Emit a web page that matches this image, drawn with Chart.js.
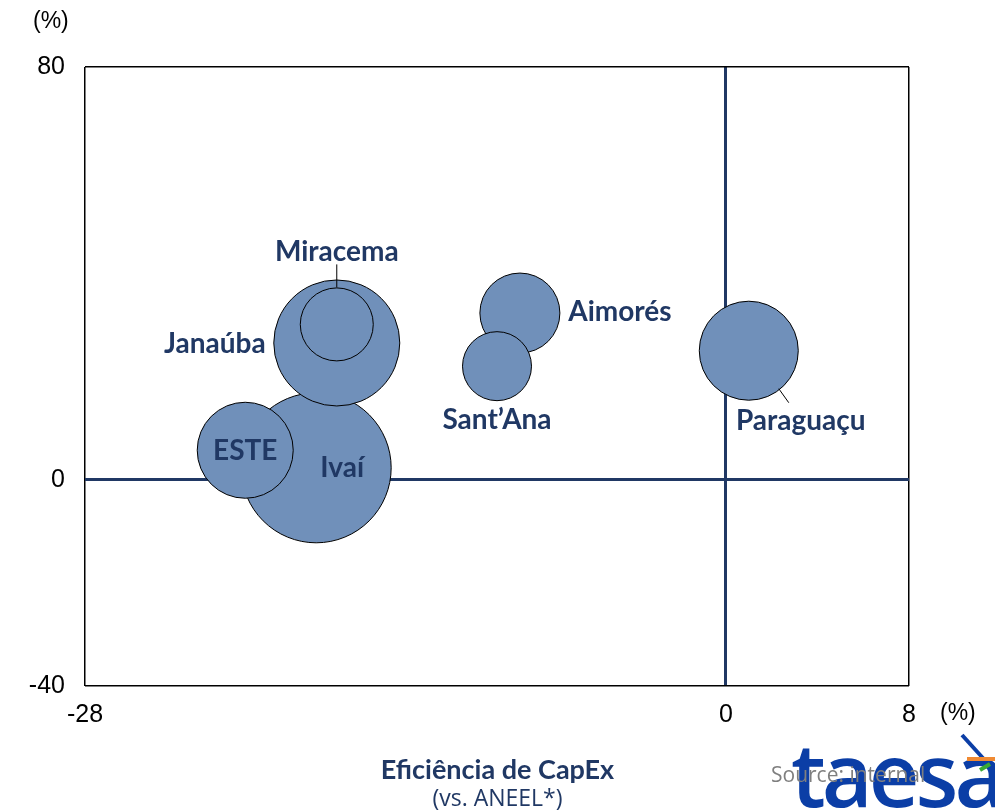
<!DOCTYPE html>
<html>
<head>
<meta charset="utf-8">
<script src="https://cdn.jsdelivr.net/npm/chart.js@4.4.1/dist/chart.umd.min.js"></script>
<style>
    html, body { margin: 0; padding: 0; background: #fff; }
    #wrap { position: relative; width: 995px; height: 811px; overflow: hidden; }
    #chart { position: absolute; left: 0; top: 0; }
    .txt { position: absolute; white-space: nowrap; }
</style>
</head>
<body>
<div id="wrap">
    <canvas id="chart" width="995" height="811"></canvas>
    <div class="txt" style="left:33px;top:7px;font:23px 'Liberation Sans';">(%)</div>
    <div class="txt" style="left:940px;top:699px;font:23px 'Liberation Sans';">(%)</div>
    <div class="txt" style="left:791px;top:713px;font:600 88px 'Open Sans';color:#0b3ea6;letter-spacing:-4px;">taesa</div>
    <svg class="txt" style="left:950px;top:730px;" width="45" height="45">
        <line x1="12" y1="5" x2="41" y2="37" stroke="#0b3ea6" stroke-width="4"/>
        <line x1="17" y1="29" x2="45" y2="29" stroke="#f08a32" stroke-width="4"/>
        <line x1="30" y1="40" x2="40" y2="34" stroke="#3aaa35" stroke-width="4"/>
    </svg>
    <div class="txt" style="left:0;width:995px;top:752px;text-align:center;font:bold 27px Lato;color:#203864;">Eficiência de CapEx</div>
    <div class="txt" style="left:0;width:995px;top:781px;text-align:center;font:23px 'Open Sans';color:#203864;">(vs. ANEEL*)</div>
    <div class="txt" style="left:771px;top:760px;font:21px 'Open Sans';color:#7f7f7f;">Source: internal</div>
</div>
<script>
(function () {
    "use strict";

    // Data
    const names = ["Ivaí", "ESTE", "Janaúba", "Miracema", "Aimorés", "Sant’Ana", "Paraguaçu"];
    const capexEff = [-17.9, -21, -17, -17, -9, -10, 1];
    const otherEff = [2.3, 5.7, 26.5, 30.1, 32.3, 22, 25];
    const bubbleSize = [75, 48, 63, 36.5, 40, 34.5, 49.5];
    const xTicks = [-28, 0, 8];
    const yTicks = [-40, 0, 80];

    const navy = "#203864";

    // label placement (pixel offset from bubble centre) and optional leader line
    const labelStyle = {
        "Ivaí": { dx: 26, dy: 0 },
        "ESTE": { dx: 0, dy: 1 },
        "Janaúba": { dx: -122, dy: 1 },
        "Miracema": { dx: 0, dy: -72, lead: [[0, -60], [0, -37]] },
        "Aimorés": { dx: 100, dy: -1 },
        "Sant’Ana": { dx: 0, dy: 54 },
        "Paraguaçu": { dx: 52, dy: 70, lead: [[30, 38], [40, 52]] },
    };

    const points = names.map((n, i) => ({ x: capexEff[i], y: otherEff[i], r: bubbleSize[i] }));

    const bubbleLabels = {
        id: "bubbleLabels",
        afterDatasetsDraw(chart) {
            const c = chart.ctx;
            const meta = chart.getDatasetMeta(0);
            c.save();
            c.font = "bold 28px Lato";
            c.fillStyle = navy;
            c.textAlign = "center";
            c.textBaseline = "middle";
            meta.data.forEach((el, i) => {
                const s = labelStyle[names[i]];
                if (s.lead) {
                    c.beginPath();
                    c.strokeStyle = "#000";
                    c.lineWidth = 1;
                    c.moveTo(el.x + s.lead[0][0], el.y + s.lead[0][1]);
                    c.lineTo(el.x + s.lead[1][0], el.y + s.lead[1][1]);
                    c.stroke();
                }
                c.fillText(names[i], el.x + s.dx, el.y + s.dy);
            });
            c.restore();
        },
    };

    const gridColor = (ctx) => {
        const v = ctx.tick && ctx.tick.value;
        return v === 0 ? navy : "#000";
    };
    const gridWidth = (ctx) => {
        const v = ctx.tick && ctx.tick.value;
        return v === 0 ? 3 : 1.5;
    };

    new Chart(document.getElementById("chart"), {
        type: "bubble",
        data: {
            datasets: [
                {
                    data: points,
                    backgroundColor: "#7090ba",
                    borderColor: "#000",
                    borderWidth: 1,
                    hoverRadius: 0,
                },
            ],
        },
        options: {
            responsive: false,
            animation: false,
            events: [],
            // bubbles would otherwise push the plot area down by their max radius
            layout: { autoPadding: false, padding: { top: 67, right: 86, left: 0, bottom: 0 } },
            plugins: { legend: { display: false }, tooltip: { enabled: false } },
            scales: {
                x: {
                    type: "linear",
                    min: -28,
                    max: 8,
                    afterBuildTicks: (s) => { s.ticks = xTicks.map((v) => ({ value: v })); },
                    afterFit: (s) => { s.height = 125; },
                    ticks: {
                        font: { size: 25, family: "Liberation Sans" },
                        color: "#000",
                        padding: 14,
                        maxRotation: 0,
                        autoSkip: false,
                    },
                    grid: { color: gridColor, lineWidth: gridWidth, drawTicks: false },
                    border: { display: false },
                },
                y: {
                    type: "linear",
                    min: -40,
                    max: 80,
                    afterBuildTicks: (s) => { s.ticks = yTicks.map((v) => ({ value: v })); },
                    afterFit: (s) => { s.width = 85; },
                    ticks: {
                        font: { size: 25, family: "Liberation Sans" },
                        color: "#000",
                        padding: 20,
                        autoSkip: false,
                    },
                    grid: { color: gridColor, lineWidth: gridWidth, drawTicks: false },
                    border: { display: false },
                },
            },
        },
        plugins: [bubbleLabels],
    });
})();
</script>
</body>
</html>
